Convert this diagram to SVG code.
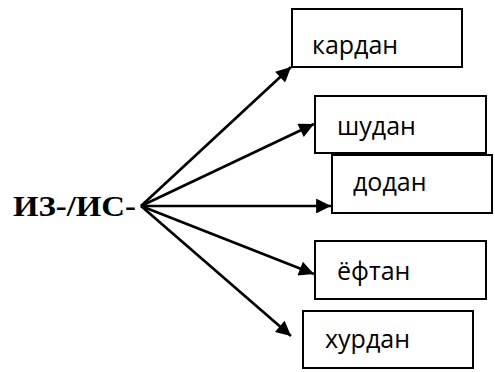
<svg xmlns="http://www.w3.org/2000/svg" width="495" height="372" viewBox="0 0 495 372">
<style>
.box{fill:#fff;stroke:#000;stroke-width:2}
.lbl{font-family:"Open Sans","Liberation Sans",sans-serif;font-size:25px;fill:#000}
.root{font-family:"Liberation Serif","Times New Roman",serif;font-size:30px;font-weight:bold;fill:#000}
.con{stroke:#000;stroke-width:2.7;fill:none;marker-end:url(#ah)}
</style>
<defs>
<marker id="ah" viewBox="0 0 10 10" refX="10" refY="5" markerWidth="6.5" markerHeight="5.5" markerUnits="strokeWidth" orient="auto">
<path d="M0,0 L10,5 L0,10 z" fill="#000"/>
</marker>
</defs>
<rect width="495" height="372" fill="#fff"/>
<g id="root"><text class="root" x="13" y="216" textLength="123" lengthAdjust="spacingAndGlyphs">ИЗ-/ИС-</text></g>
<g id="n1"><rect class="box" x="292" y="9" width="170" height="58"/><text class="lbl" x="312" y="54">кардан</text></g>
<g id="n2"><rect class="box" x="315" y="96" width="171" height="57"/><text class="lbl" x="337" y="135">шудан</text></g>
<g id="n3"><rect class="box" x="332" y="155" width="160" height="58"/><text class="lbl" x="353" y="191">додан</text></g>
<g id="n4"><rect class="box" x="315" y="241" width="171" height="58"/><text class="lbl" x="337" y="280">ёфтан</text></g>
<g id="n5"><rect class="box" x="303" y="311" width="170" height="57"/><text class="lbl" x="325" y="348">хурдан</text></g>
<g id="connectors">
<line class="con" x1="141" y1="206" x2="291" y2="67"/>
<line class="con" x1="141" y1="206" x2="314" y2="124"/>
<line class="con" x1="141" y1="206" x2="331" y2="206"/>
<line class="con" x1="141" y1="206" x2="314" y2="274"/>
<line class="con" x1="141" y1="206" x2="291" y2="336"/>
</g>
</svg>
